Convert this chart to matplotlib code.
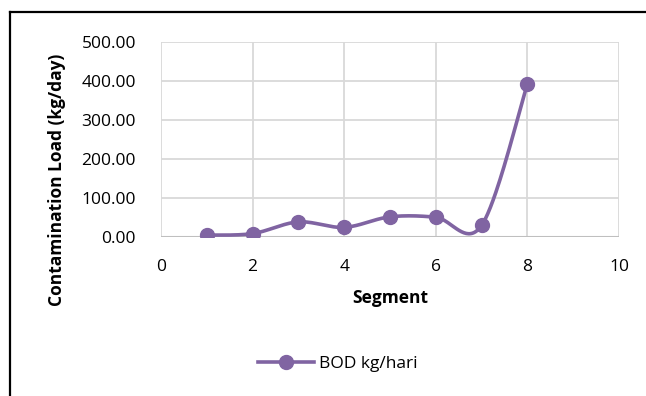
import numpy as np
import matplotlib
matplotlib.use("Agg")
import matplotlib.pyplot as plt
from matplotlib.lines import Line2D

# data
segments = [1, 2, 3, 4, 5, 6, 7, 8]
bod = [4, 8, 38, 24, 51, 50, 29, 392]
xticks = [0, 2, 4, 6, 8, 10]
yticks = [0, 100, 200, 300, 400, 500]

purple = "#8064a2"
grid_col = "#d9d9d9"
font = ["Open Sans", "DejaVu Sans"]
plt.rcParams["font.family"] = font


def smooth(xs, ys, f=1 / 6, n=40):
    # excel-like smoothed line: catmull-rom style bezier
    pts = np.column_stack([xs, ys]).astype(float)
    out = [pts[0]]
    for i in range(len(pts) - 1):
        p0 = pts[i - 1] if i > 0 else pts[i]
        p1 = pts[i]
        p2 = pts[i + 1]
        p3 = pts[i + 2] if i + 2 < len(pts) else pts[i + 1]
        c1 = p1 + f * (p2 - p0)
        c2 = p2 - f * (p3 - p1)
        t = np.linspace(0, 1, n)[1:, None]
        b = ((1 - t) ** 3) * p1 + 3 * ((1 - t) ** 2) * t * c1 + 3 * (1 - t) * t ** 2 * c2 + t ** 3 * p2
        out.extend(b)
    return np.array(out)


fig = plt.figure(figsize=(6.46, 3.96), dpi=100)
ax = fig.add_axes([161 / 646, 1 - 236.7 / 396, (619 - 161) / 646, (236.7 - 42) / 396])
ax.set_xlim(0, 10)
ax.set_ylim(0, 500)

for s in ax.spines.values():
    s.set_visible(False)
for x in xticks:
    ax.axvline(x, color=grid_col, lw=1.3, zorder=0)
for y in yticks[1:]:
    ax.axhline(y, color=grid_col, lw=1.3, zorder=0)
ax.axhline(0, color="#bfbfbf", lw=1.5, zorder=1)

ax.set_xticks(xticks)
ax.set_yticks(yticks)
ax.set_yticklabels([f"{v:.2f}" for v in yticks])
ax.tick_params(length=0, labelsize=12.5, pad=18, colors="black")
ax.tick_params(axis="x", pad=16)

curve = smooth(segments, bod)
ax.plot(curve[:, 0], curve[:, 1], color=purple, lw=2.6, zorder=3, solid_capstyle="round")
ax.plot(segments, bod, "o", color=purple, ms=10, zorder=4)

ax.set_xlabel("Segment", fontsize=12.5, fontweight="bold", va="center")
ax.xaxis.set_label_coords(0.5, (236.7 - 298) / 194.7)
ax.set_ylabel("Contamination Load (kg/day)", fontsize=12.5, fontweight="bold", va="center")
ax.yaxis.set_label_coords((57 - 161) / 458, (236.7 - 180) / 194.7)

handle = Line2D([], [], color=purple, lw=2.6, marker="o", ms=10)
fig.legend([handle], ["BOD kg/hari"], loc="center", bbox_to_anchor=(338 / 646, 1 - 364 / 396),
           frameon=False, fontsize=12.5, handlelength=3.2, handletextpad=0.3)

# outer chart border
fig.add_artist(Line2D([10 / 646, 10 / 646], [0, 1 - 12 / 396], transform=fig.transFigure, color="black", lw=1.6))
fig.add_artist(Line2D([10 / 646, 1], [1 - 12 / 396, 1 - 12 / 396], transform=fig.transFigure, color="black", lw=1.6))

fig.savefig("out.png", dpi=100)
